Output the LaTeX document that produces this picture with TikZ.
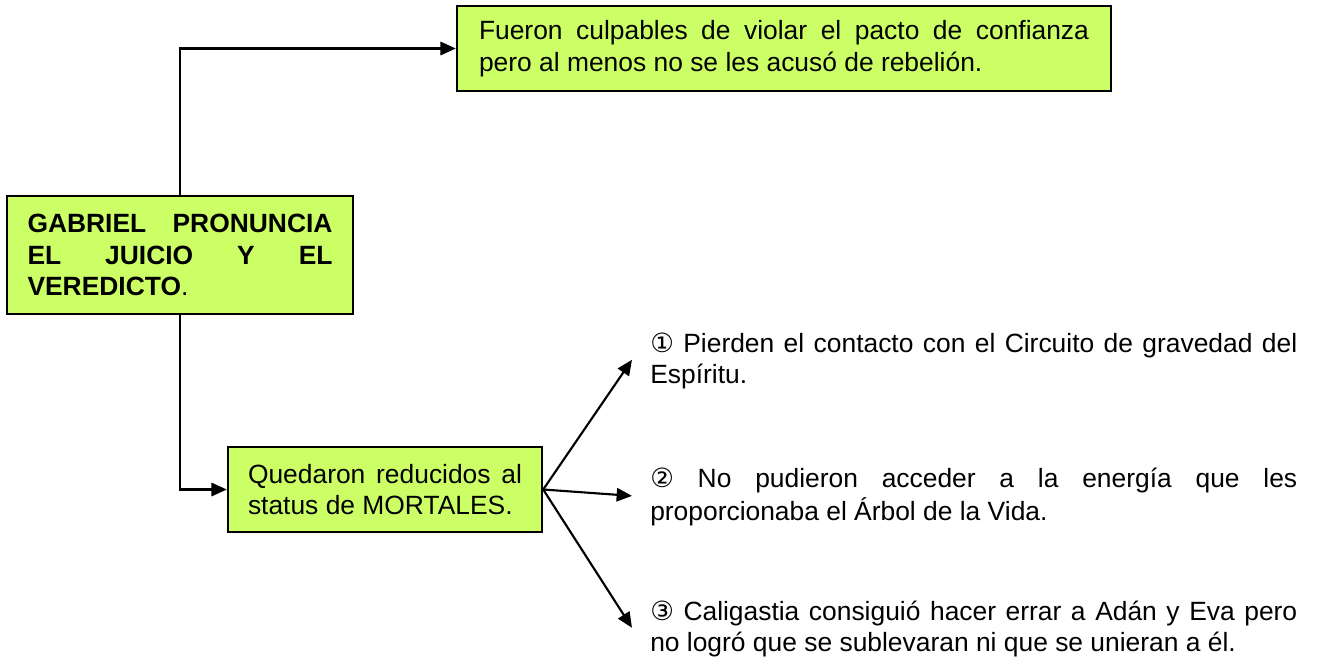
\documentclass[tikz,border=0pt]{standalone}
\usepackage{fontspec}
\setmainfont{Liberation Sans}
\newfontfamily\circfont{DejaVu Sans}
\usetikzlibrary{arrows.meta}
\definecolor{boxgreen}{RGB}{204,255,102}
\newcommand{\txt}{\fontsize{19.8}{23.6}\selectfont\hyphenpenalty=10000\tolerance=10000}
\begin{document}
\begin{tikzpicture}[x=0.75pt,y=-0.75pt,
  box/.style={draw,line width=1.8pt,fill=boxgreen,align=justify,font=\txt},
  item/.style={anchor=north west,inner ysep=0pt,inner xsep=13.5pt,text width=485.25pt,align=justify,font=\txt},
  arr/.style={line width=1.6pt,-{Triangle[length=11.5pt,width=10pt]}}]
\useasboundingbox (0,0) rectangle (1319,661);
\node[box,text width=228.75pt,inner xsep=15.375pt,minimum height=88.5pt] (gab) at (180,255)
  {\textbf{GABRIEL PRONUNCIA\linebreak EL JUICIO Y EL\linebreak VEREDICTO}.};
\node[box,text width=457.5pt,inner xsep=16.5pt,minimum height=63.75pt] (top) at (784,48.5)
  {Fueron culpables de violar el pacto de confianza\linebreak pero al menos no se les acusó de rebelión.};
\node[box,text width=205.5pt,inner xsep=15pt,minimum height=63.75pt] (qued) at (385,489.5)
  {Quedaron reducidos al\linebreak status de MORTALES.};
% consecuencias
\node[item] (p1) at (632,330)
  {\strut{\circfont ①} Pierden el contacto con el Circuito de gravedad del\linebreak Espíritu.};
\node[item] (p2) at (632,465)
  {\strut{\circfont ②} No pudieron acceder a la energía que les\linebreak proporcionaba el Árbol de la Vida.};
\node[item] (p3) at (632,598)
  {\strut{\circfont ③} Caligastia consiguió hacer errar a Adán y Eva pero\linebreak no logró que se sublevaran ni que se unieran a él.};
\draw[arr] (gab.north) |- (top.west);
\draw[arr] (gab.south) |- (qued.west);
\draw[arr] (qued.east) -- (p1.west);
\draw[arr] (qued.east) -- (p2.west);
\draw[arr] (qued.east) -- (p3.west);
\end{tikzpicture}
\end{document}
